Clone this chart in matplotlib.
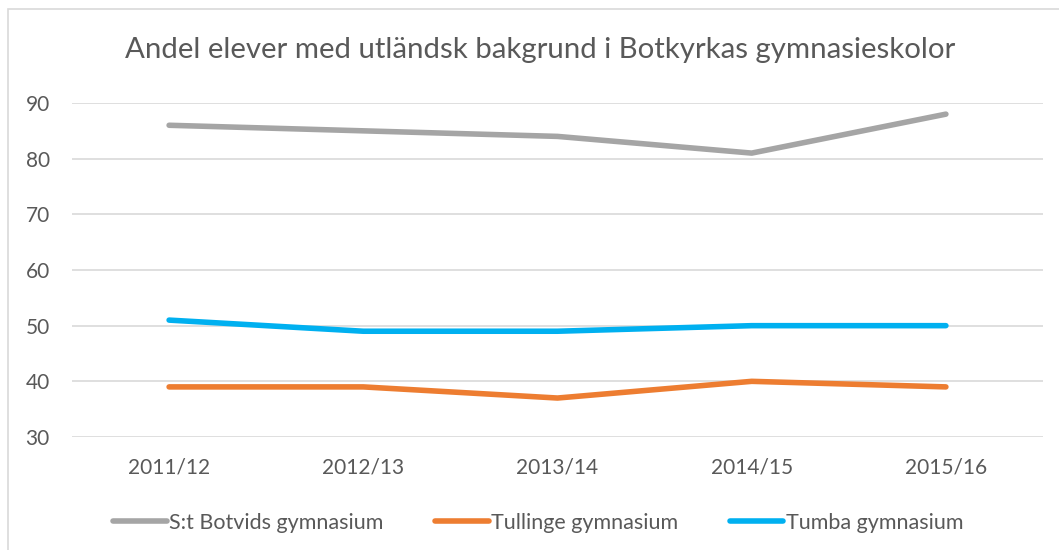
import matplotlib
matplotlib.use("Agg")
import matplotlib.pyplot as plt
from matplotlib.patches import Rectangle

categories = ["2011/12", "2012/13", "2013/14", "2014/15", "2015/16"]
st_botvids = [86, 85, 84, 81, 88]
tullinge = [39, 39, 37, 40, 39]
tumba = [51, 49, 49, 50, 50]
series_names = ["S:t Botvids gymnasium", "Tullinge gymnasium", "Tumba gymnasium"]
yticks = [30, 40, 50, 60, 70, 80, 90]

plt.rcParams['font.family'] = ['Lato', 'DejaVu Sans']

W, H = 1059, 550
fig = plt.figure(figsize=(W / 100, H / 100), dpi=100)
fig.patch.set_facecolor("white")

# chart border
fig.patches.append(Rectangle((8 / W, -0.1), 1.2, 1 - 9 / H + 0.1, transform=fig.transFigure,
                             fill=False, edgecolor="#D9D9D9", linewidth=1.2))

ax = fig.add_axes([72 / W, (H - 437) / H, (1043 - 72) / W, (437 - 103) / H])
x = list(range(len(categories)))
colors = ["#A5A5A5", "#ED7D31", "#00B0F0"]
for vals, name, c in zip([st_botvids, tullinge, tumba], series_names, colors):
    ax.plot(x, vals, color=c, linewidth=4.0, solid_capstyle="round", label=name)

ax.set_xlim(-0.5, len(categories) - 0.5)
ax.set_ylim(30, 90)
ax.set_yticks(yticks)
ax.set_xticks(x)
ax.set_xticklabels(categories)
ax.grid(axis="y", color="#D9D9D9", linewidth=1.2)
ax.set_axisbelow(True)
for s in ax.spines.values():
    s.set_visible(False)
ax.tick_params(axis="both", length=0, labelsize=15, labelcolor="#595959")
ax.tick_params(axis="x", pad=15)
ax.tick_params(axis="y", pad=16)

fig.text(540 / W, 1 - 50 / H, "Andel elever med utländsk bakgrund i Botkyrkas gymnasieskolor",
         ha="center", va="center", fontsize=21.2, color="#595959")

handles, labels = ax.get_legend_handles_labels()
fig.legend(handles, labels, loc="center", bbox_to_anchor=(538 / W, 1 - 523 / H), ncol=3,
           frameon=False, fontsize=15.5, labelcolor="#595959", handlelength=2.5,
           handletextpad=0.1, columnspacing=2.4)

fig.savefig("out.png", dpi=100, facecolor="white")
